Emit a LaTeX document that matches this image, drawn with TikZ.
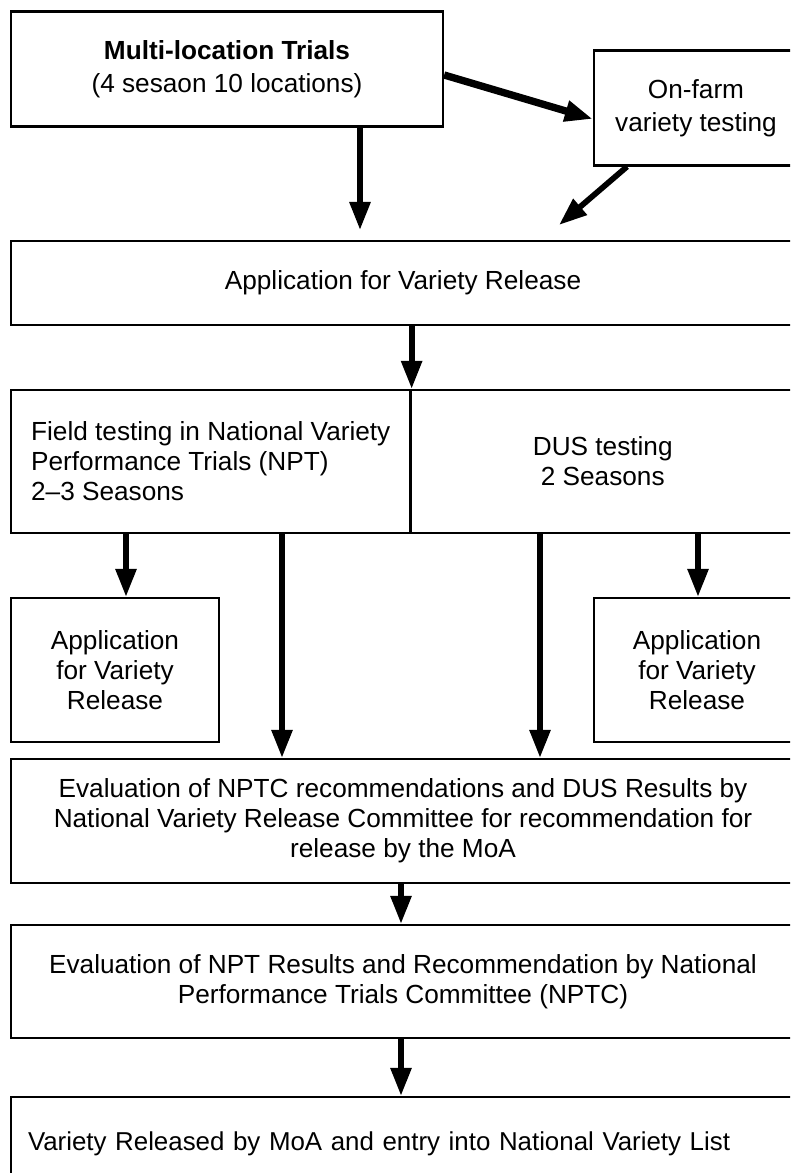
\documentclass[tikz,border=0pt]{standalone}
\usepackage{fontspec}
\setmainfont{Liberation Sans}
\usetikzlibrary{arrows.meta}
\begin{document}
\begin{tikzpicture}[x=0.75pt,y=-0.75pt,
  frame/.style={draw=black, line width=1.7pt},
  box/.style={frame, rectangle, inner sep=0pt, align=center,
    font=\fontsize{19.65}{22.5}\selectfont},
  arr/.style={line width=4.3pt, -{Triangle[length=21pt,width=15pt]}},
]
\useasboundingbox (0,0) rectangle (790,1173);
\begin{scope}
\clip (0,0) rectangle (790,1173);

% boxes (the right-hand ones run past the page edge)
\node[box, minimum width=432*0.75pt, minimum height=115*0.75pt] (trials) at (227,69)
  {\textbf{Multi-location Trials}\\[2.5pt](4 sesaon 10 locations)};
\node[box, minimum width=204*0.75pt, minimum height=115*0.75pt] (onfarm) at (696,108)
  {On-farm\\[2.5pt]variety testing};
\node[box, minimum width=784*0.75pt, minimum height=84*0.75pt] (apply) at (403,283)
  {Application for Variety Release};
\node[box, align=left, minimum width=399.5*0.75pt, minimum height=143*0.75pt] (npt) at (210.75,461.5)
  {Field testing in National Variety\\Performance Trials (NPT)\\2--3 Seasons};
\node[box, minimum width=384.5*0.75pt, minimum height=143*0.75pt] (dus) at (602.75,461.5)
  {DUS testing\\2 Seasons};
\node[box, minimum width=208*0.75pt, minimum height=144*0.75pt] (appL) at (115,670)
  {Application\\for Variety\\Release};
\node[box, minimum width=206*0.75pt, minimum height=144*0.75pt] (appR) at (697,670)
  {Application\\for Variety\\Release};
\node[box, minimum width=784*0.75pt, minimum height=124*0.75pt] (nvrc) at (403,821)
  {Evaluation of NPTC recommendations and DUS Results by\\National Variety Release Committee for recommendation for\\release by the MoA};
\node[box, minimum width=784*0.75pt, minimum height=113*0.75pt] (nptc) at (403,981.5)
  {Evaluation of NPT Results and Recommendation by National\\Performance Trials Committee (NPTC)};
\node[box, align=left, text width=750*0.75pt, minimum width=784*0.75pt, minimum height=94*0.75pt,
  font=\fontsize{19.4}{22.5}\selectfont] (final) at (403,1144)
  {Variety Released by MoA and entry into National Variety List};

% connector positions
\coordinate (tA) at (360,230);
\coordinate (sB) at (627,0);
\coordinate (tB) at (559,225);
\coordinate (c1) at (126,0);
\coordinate (c2) at (282,0);
\coordinate (c3) at (540,0);
\coordinate (c4) at (698,0);
\coordinate (c5) at (401,0);

% connectors
\draw[arr] (trials.south -| tA) -- (tA);
\draw[arr, line width=5.5pt] ([yshift=-4.5pt]trials.east) -- ([yshift=-8.25pt]onfarm.west);
\draw[arr] (onfarm.south -| sB) -- (tB);
\draw[arr] (apply.south -| npt.east) -- (npt.north east);
\draw[arr] (npt.south -| c1) -- (appL.north -| c1);
\draw[arr] (npt.south -| c2) -- (nvrc.north -| c2);
\draw[arr] (dus.south -| c3) -- (nvrc.north -| c3);
\draw[arr] (dus.south -| c4) -- (appR.north -| c4);
\draw[arr] (nvrc.south -| c5) -- (nptc.north -| c5);
\draw[arr] (nptc.south -| c5) -- (final.north -| c5);
\end{scope}
\end{tikzpicture}
\end{document}
